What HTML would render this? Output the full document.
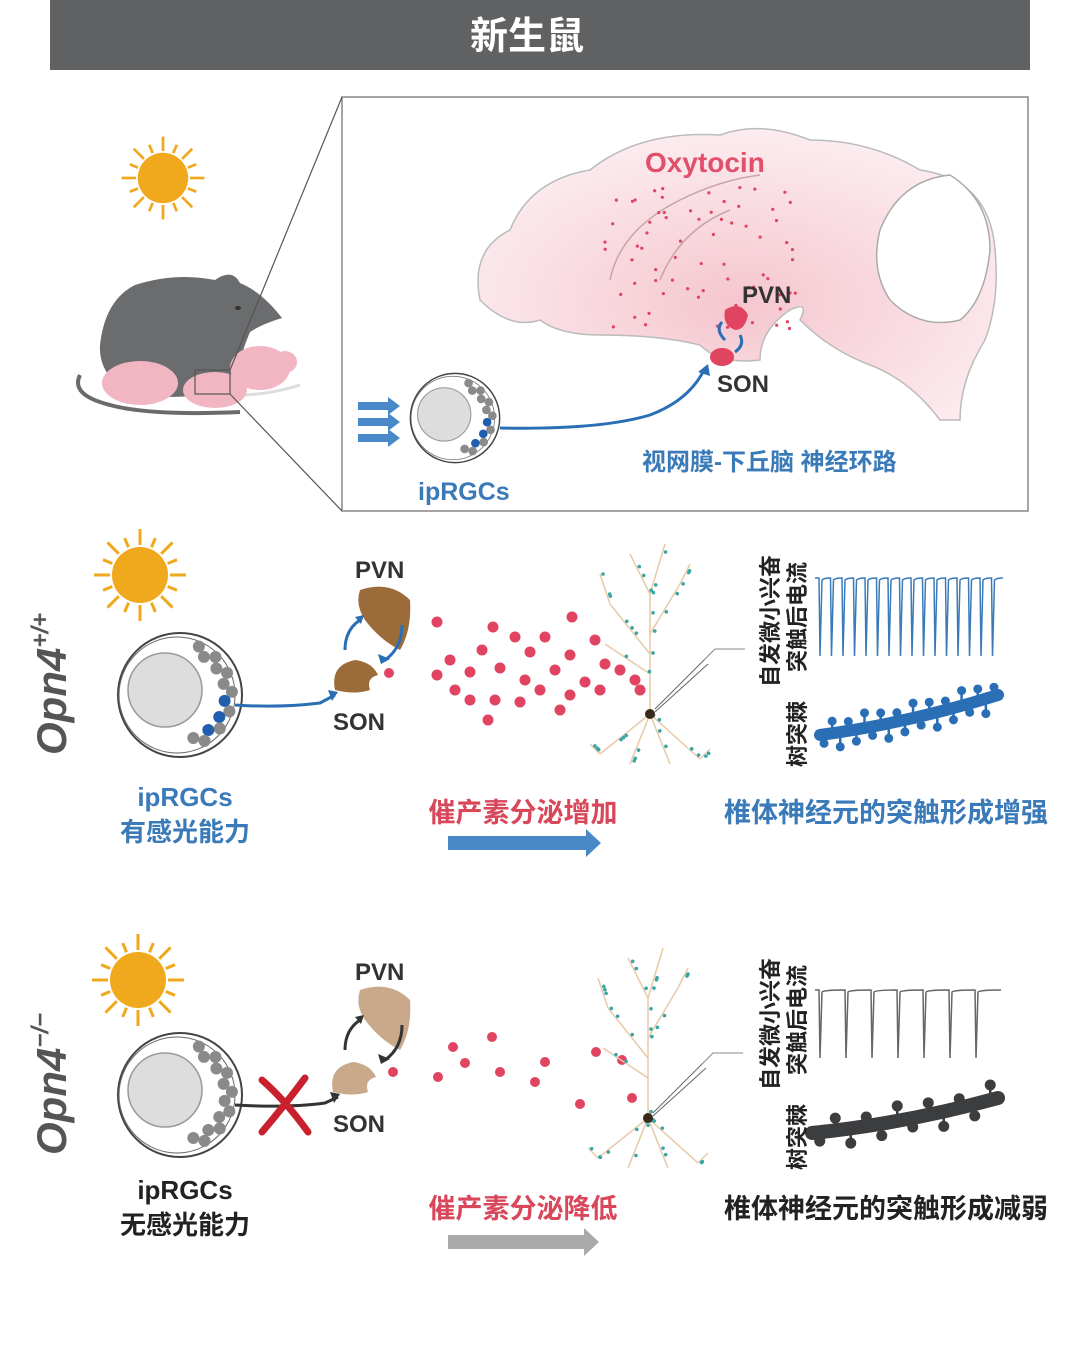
<!DOCTYPE html>
<html><head><meta charset="utf-8">
<style>
html,body{margin:0;padding:0;background:#fff;}
svg{display:block;}
text{font-family:"Liberation Sans","Noto Sans CJK SC",sans-serif;font-weight:bold;}
</style></head>
<body>
<svg id="s" width="1080" height="1353" viewBox="0 0 1080 1353" xmlns="http://www.w3.org/2000/svg">
<defs>
<radialGradient id="bg" cx="50%" cy="60%" r="60%"><stop offset="0" stop-color="#f5c6cf"/><stop offset="1" stop-color="#fcedf0"/></radialGradient>
</defs>
<!-- header -->
<rect x="50" y="0" width="980" height="70" fill="#5f6163"/>
<text x="527" y="49" font-size="38" fill="#fff" text-anchor="middle">新生鼠</text>

<!-- top box -->
<rect x="342" y="97" width="686" height="414" fill="#fff" stroke="#888" stroke-width="1.5"/>
<g id="topsun"></g>
<!-- mouse -->
<path d="M80 375 Q70 395 110 405 Q150 416 240 412" stroke="#6a6a6a" stroke-width="4" fill="none"/>
<path d="M105 365 Q120 385 210 395 Q260 398 300 385" stroke="#ddd" stroke-width="3" fill="none"/>
<path d="M100 345 Q105 300 135 285 Q175 272 215 280 Q232 268 240 283 Q262 292 282 318 Q262 324 250 332 Q238 360 232 395 L140 398 Q98 380 100 345Z" fill="#6b6c6e"/>
<ellipse cx="238" cy="308" rx="3" ry="2" fill="#333"/>
<g fill="#f2b6c3">
<ellipse cx="140" cy="383" rx="38" ry="22"/>
<ellipse cx="215" cy="390" rx="32" ry="18"/>
<ellipse cx="260" cy="368" rx="30" ry="22"/>
<ellipse cx="285" cy="362" rx="12" ry="11"/>
</g>
<rect x="195" y="370" width="35" height="24" fill="none" stroke="#555" stroke-width="1.2"/>
<line x1="230" y1="370" x2="342" y2="97" stroke="#555" stroke-width="1.2"/>
<line x1="230" y1="394" x2="342" y2="511" stroke="#555" stroke-width="1.2"/>

<!-- brain -->
<path d="M480 300 Q470 250 510 230 Q530 180 590 170 Q640 130 720 135 Q760 120 810 140 Q870 140 920 170 Q990 180 995 250 Q1000 300 985 340 Q960 380 960 420 L940 420 Q910 380 870 365 Q830 350 800 320 Q810 300 790 310 Q760 330 760 360 Q720 365 700 345 Q660 335 600 335 Q560 335 540 320 Q510 330 480 300Z" fill="url(#bg)" stroke="#bbb" stroke-width="1.5"/>
<path d="M880 230 Q900 180 950 175 Q990 200 990 250 Q985 300 960 320 Q920 330 890 300 Q870 270 880 230Z" fill="#fff" stroke="#aaa" stroke-width="1.5"/>
<path d="M610 280 Q620 230 680 200 Q720 180 760 175 M660 280 Q680 230 730 210" stroke="#c9a3aa" stroke-width="1.5" fill="none"/>
<text x="645" y="172" font-size="28" fill="#e0506a" font-weight="bold">Oxytocin</text>
<g id="bdots" fill="#e04460"></g>
<text x="742" y="303" font-size="24" fill="#333">PVN</text>
<text x="717" y="392" font-size="24" fill="#333">SON</text>
<path d="M725 310 Q740 300 748 315 Q745 330 735 330 Q722 325 725 310Z" fill="#e04460"/>
<ellipse cx="722" cy="357" rx="12" ry="9" fill="#e04460"/>
<path d="M725 340 Q715 330 722 322" stroke="#2a6fb5" stroke-width="3" fill="none"/>
<path d="M740 335 Q745 345 735 352" stroke="#2a6fb5" stroke-width="3" fill="none"/>
<g transform="translate(455,418) scale(0.72)" id="eyeTop"></g>
<g fill="#4a89c8">
<path d="M358 402 h30 v-5 l12 9 -12 9 v-5 h-30z"/>
<path d="M358 418 h30 v-5 l12 9 -12 9 v-5 h-30z"/>
<path d="M358 434 h30 v-5 l12 9 -12 9 v-5 h-30z"/>
</g>
<path d="M500 428 Q600 430 650 415 Q690 400 705 368" stroke="#2a6fb5" stroke-width="3" fill="none"/>
<path d="M698 372 l10 -8 l2 12z" fill="#2a6fb5"/>
<text x="642" y="470" font-size="24" fill="#3a7ab8">视网膜-下丘脑 神经环路</text>
<text x="418" y="500" font-size="25" fill="#3a7ab8" font-weight="normal">ipRGCs</text>

<!-- middle row -->
<g id="sun1" transform="translate(140,575)"></g>
<text transform="translate(66,755) rotate(-90)" font-size="42" fill="#555" font-style="italic" font-weight="normal">Opn4<tspan font-size="24" dy="-18">+/+</tspan></text>
<g id="eye1" transform="translate(180,695)"></g>
<path d="M235 705 Q280 708 320 703 L335 695" stroke="#2a6fb5" stroke-width="3" fill="none"/>
<path d="M328 690 l10 2 -6 9z" fill="#2a6fb5"/>
<path d="M360 590 Q390 580 410 600 Q412 630 400 650 Q380 640 365 620 Q355 605 360 590Z" fill="#9c6b3a"/>
<path d="M335 690 Q330 665 355 660 Q372 662 378 675 Q366 678 370 690 Q355 695 335 690Z" fill="#9c6b3a"/>
<circle cx="389" cy="673" r="5" fill="#e04460"/>
<path d="M345 650 Q345 630 360 620" stroke="#2a6fb5" stroke-width="3" fill="none"/><path d="M355 617 l9 -2 -3 9z" fill="#2a6fb5"/>
<path d="M402 625 Q402 648 385 660" stroke="#2a6fb5" stroke-width="3" fill="none"/><path d="M378 654 l3 10 9 -5z" fill="#2a6fb5"/>
<text x="355" y="578" font-size="24" fill="#333">PVN</text>
<text x="333" y="730" font-size="24" fill="#333">SON</text>
<g id="dots1" fill="#e04460"></g>
<g id="neuron1" transform="translate(650,714)"></g>
<path id="trace1" fill="none" stroke="#3a7ab8" stroke-width="1.5"/>
<g id="spine1" fill="#2a6fb5" stroke="#2a6fb5"></g>
<text transform="translate(778,687) rotate(-90)" font-size="22" fill="#222">自发微小兴奋</text>
<text transform="translate(805,672) rotate(-90)" font-size="22" fill="#222">突触后电流</text>
<text transform="translate(805,767) rotate(-90)" font-size="22" fill="#222">树突棘</text>
<text x="185" y="806" font-size="26" fill="#3a7ab8" text-anchor="middle">ipRGCs</text>
<text x="185" y="841" font-size="26" fill="#3a7ab8" text-anchor="middle">有感光能力</text>
<text x="523" y="822" font-size="27" fill="#d9475a" text-anchor="middle">催产素分泌增加</text>
<path d="M448 836 h138 v-7 l15 14 -15 14 v-7 h-138z" fill="#4a89c8"/>
<text x="886" y="822" font-size="27" fill="#3a7ab8" text-anchor="middle">椎体神经元的突触形成增强</text>

<!-- bottom row -->
<g id="sun2" transform="translate(138,980)"></g>
<text transform="translate(66,1155) rotate(-90)" font-size="42" fill="#555" font-style="italic" font-weight="normal">Opn4<tspan font-size="24" dy="-18">−/−</tspan></text>
<g id="eye2" transform="translate(180,1095)"></g>
<path d="M235 1105 Q290 1108 325 1103 L338 1097" stroke="#333" stroke-width="3" fill="none"/>
<path d="M330 1092 l10 2 -6 9z" fill="#333"/>
<path d="M262 1080 Q285 1100 308 1132 M305 1078 Q285 1105 262 1132" stroke="#c8202d" stroke-width="7" fill="none" stroke-linecap="round"/>
<path d="M360 990 Q390 980 410 1000 Q412 1030 400 1050 Q380 1040 365 1020 Q355 1005 360 990Z" fill="#c9a98a"/>
<path d="M333 1092 Q328 1067 353 1062 Q370 1064 376 1077 Q364 1080 368 1092 Q353 1097 333 1092Z" fill="#c9a98a"/>
<circle cx="393" cy="1072" r="5" fill="#e04460"/>
<path d="M345 1050 Q345 1030 360 1020" stroke="#333" stroke-width="3" fill="none"/><path d="M355 1017 l9 -2 -3 9z" fill="#333"/>
<path d="M402 1025 Q402 1048 385 1060" stroke="#333" stroke-width="3" fill="none"/><path d="M378 1054 l3 10 9 -5z" fill="#333"/>
<text x="355" y="980" font-size="24" fill="#333">PVN</text>
<text x="333" y="1132" font-size="24" fill="#333">SON</text>
<g fill="#e04460">
<circle cx="453" cy="1047" r="5"/><circle cx="492" cy="1037" r="5"/><circle cx="465" cy="1063" r="5"/><circle cx="438" cy="1077" r="5"/><circle cx="500" cy="1072" r="5"/><circle cx="545" cy="1062" r="5"/><circle cx="535" cy="1082" r="5"/><circle cx="596" cy="1052" r="5"/><circle cx="622" cy="1060" r="5"/><circle cx="580" cy="1104" r="5"/><circle cx="632" cy="1098" r="5"/>
</g>
<g id="neuron2" transform="translate(648,1118)"></g>
<path id="trace2" fill="none" stroke="#666" stroke-width="1.5"/>
<g id="spine2" fill="#3c3d3f" stroke="#3c3d3f"></g>
<text transform="translate(778,1090) rotate(-90)" font-size="22" fill="#222">自发微小兴奋</text>
<text transform="translate(805,1075) rotate(-90)" font-size="22" fill="#222">突触后电流</text>
<text transform="translate(805,1170) rotate(-90)" font-size="22" fill="#222">树突棘</text>
<text x="185" y="1199" font-size="26" fill="#222" text-anchor="middle">ipRGCs</text>
<text x="185" y="1234" font-size="26" fill="#222" text-anchor="middle">无感光能力</text>
<text x="523" y="1218" font-size="27" fill="#d9475a" text-anchor="middle">催产素分泌降低</text>
<path d="M448 1235 h136 v-7 l15 14 -15 14 v-7 h-136z" fill="#aaa"/>
<text x="886" y="1218" font-size="27" fill="#222" text-anchor="middle">椎体神经元的突触形成减弱</text>
</svg>
<script>
var NS="http://www.w3.org/2000/svg";
function el(t,a,p){var e=document.createElementNS(NS,t);for(var k in a)e.setAttribute(k,a[k]);p.appendChild(e);return e;}
function sun(g){for(var i=0;i<16;i++){var a=i*Math.PI/8,l=(i%2)?40:46;el("line",{x1:30*Math.cos(a),y1:30*Math.sin(a),x2:l*Math.cos(a),y2:l*Math.sin(a),stroke:"#f0a81c","stroke-width":3},g);}
el("circle",{r:28,fill:"#f0a81c"},g);}
sun(document.getElementById("sun1"));sun(document.getElementById("sun2"));
var ts=document.getElementById("topsun");ts.setAttribute("transform","translate(163,178) scale(0.9)");sun(ts);
function eye(g,blue){
el("circle",{r:62,fill:"#fff",stroke:"#444","stroke-width":2},g);
el("circle",{cx:-3,r:58,fill:"none",stroke:"#666","stroke-width":1},g);
el("circle",{cx:-15,cy:-5,r:37,fill:"#ddd",stroke:"#999","stroke-width":1.5},g);
for(var i=0;i<14;i++){var a=-1.2+i*0.19,r=(i%2)?45:52;
var b=blue&&(i==7||i==9||i==11);
el("circle",{cx:r*Math.cos(a),cy:r*Math.sin(a),r:6,fill:b?"#1f5fae":"#8a8a8a"},g);}
}
eye(document.getElementById("eye1"),true);eye(document.getElementById("eye2"),false);eye(document.getElementById("eyeTop"),true);
var bd=document.getElementById("bdots");var seed=3;function rnd(){seed=(seed*9301+49297)%233280;return seed/233280;}
for(var i=0;i<70;i++){el("circle",{cx:600+rnd()*200,cy:185+rnd()*150,r:1.6},bd);}
var d1=document.getElementById("dots1");
[[437,622],[493,627],[515,637],[545,637],[572,617],[595,640],[450,660],[482,650],[530,652],[570,655],[605,664],[437,675],[470,672],[500,668],[525,680],[555,670],[585,682],[620,670],[455,690],[495,700],[540,690],[570,695],[600,690],[635,680],[640,690],[488,720],[560,710],[520,702],[470,700]].forEach(function(p){el("circle",{cx:p[0],cy:p[1],r:5.5},d1);});
function neuron(g){
var br=[[0,0,0,-120],[0,-120,-20,-160],[0,-120,15,-170],[0,-60,-40,-110],[-40,-110,-50,-140],[0,-80,30,-130],[30,-130,40,-150],[0,0,-50,40],[0,0,50,45],[0,0,-20,50],[0,0,20,50],[-50,40,-60,30],[50,45,60,35],[0,-40,-45,-70]];
br.forEach(function(b){el("line",{x1:b[0],y1:b[1],x2:b[2],y2:b[3],stroke:"#e8c9a8","stroke-width":1.5},g);});
for(var i=0;i<40;i++){var b=br[i%br.length],t=rnd();el("circle",{cx:b[0]+(b[2]-b[0])*t+3,cy:b[1]+(b[3]-b[1])*t,r:1.8,fill:"#3aa5a5"},g);}
el("circle",{r:5,fill:"#3a2a1a"},g);
el("line",{x1:5,y1:-5,x2:55,y2:-55,stroke:"#666","stroke-width":1},g);
el("line",{x1:5,y1:-2,x2:58,y2:-50,stroke:"#666","stroke-width":1},g);
el("polyline",{points:"55,-55 65,-65 95,-65",fill:"none",stroke:"#888","stroke-width":1},g);
}
neuron(document.getElementById("neuron1"));neuron(document.getElementById("neuron2"));
function trace(id,x0,y0,n,dx,depth){var d="M"+x0+" "+y0;for(var i=0;i<n;i++){var x=x0+4+i*dx;d+=" L"+x+" "+y0+" L"+(x+1)+" "+(y0+depth)+" L"+(x+3)+" "+(y0+2)+" Q"+(x+5)+" "+y0+" "+(x+dx)+" "+y0;}document.getElementById(id).setAttribute("d",d);}
trace("trace1",815,578,16,11.5,78);trace("trace2",815,990,7,26,68);
function spine(id,x0,y0,x1,y1,bumps,w,r){var g=document.getElementById(id);
el("path",{d:"M"+x0+" "+y0+" Q"+((x0+x1)/2)+" "+(y0+(y1-y0)/2+8)+" "+x1+" "+y1,fill:"none","stroke-width":w*2,"stroke-linecap":"round"},g);
for(var i=0;i<bumps;i++){var t=(i+0.5)/bumps,x=x0+(x1-x0)*t,y=y0+(y1-y0)*t+4*Math.sin(t*Math.PI),s=(i%2)?-1:1,h=9+(i%3)*3;
el("line",{x1:x,y1:y,x2:x,y2:y+s*h,"stroke-width":2.5},g);
el("circle",{cx:x,cy:y+s*h,r:r,stroke:"none"},g);}}
spine("spine1",820,735,998,695,22,6,4.5);spine("spine2",812,1133,998,1098,12,7,5.5);
</script>
</body></html>
